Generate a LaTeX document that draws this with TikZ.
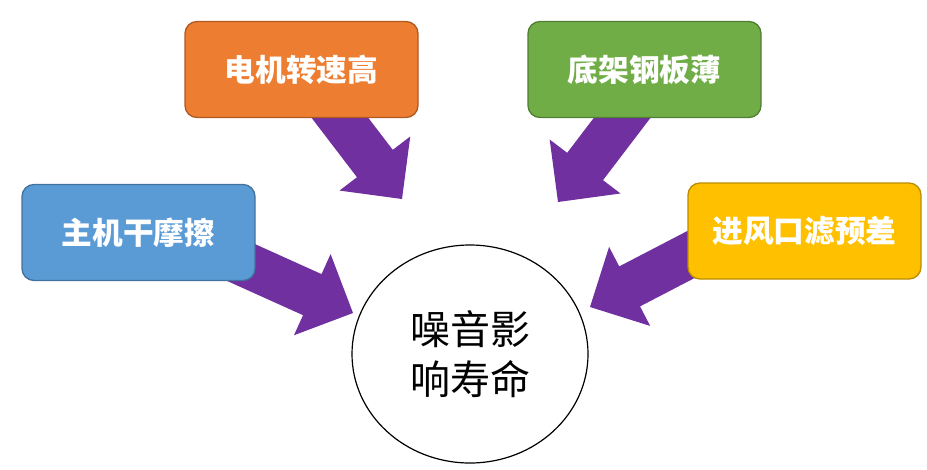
\documentclass[tikz,border=0pt]{standalone}
\usepackage{fontspec}
\newfontfamily\cjk{Noto Sans CJK SC}
\usetikzlibrary{calc,shapes.geometric}
\definecolor{arrowpurple}{HTML}{7030A0}
\definecolor{orfill}{HTML}{ED7D31}\definecolor{ordraw}{HTML}{AE5A21}
\definecolor{grfill}{HTML}{70AD47}\definecolor{grdraw}{HTML}{507E32}
\definecolor{blfill}{HTML}{5B9BD5}\definecolor{bldraw}{HTML}{41719C}
\definecolor{yefill}{HTML}{FFC000}\definecolor{yedraw}{HTML}{BC8C00}
\newcommand\blockarrow[2]{%
  \fill[arrowpurple] (#2)
    -- ($($(#2)!33.5pt!(#1)$)!33.4pt!90:(#2)$)
    -- ($($(#2)!33.5pt!(#1)$)!16.9pt!90:(#2)$)
    -- ($(#1)!16.9pt!90:(#2)$)
    -- ($(#1)!16.9pt!-90:(#2)$)
    -- ($($(#2)!33.5pt!(#1)$)!16.9pt!-90:(#2)$)
    -- ($($(#2)!33.5pt!(#1)$)!33.4pt!-90:(#2)$)
    -- cycle;}
\tikzset{
  causebox/.style={rectangle, rounded corners=9pt, line width=1pt,
    minimum width=174.75pt, minimum height=72pt, inner sep=0pt,
    text=white, font=\cjk\bfseries\fontsize{23}{27}\selectfont},
  effect/.style={ellipse, draw=black, line width=0.9pt, fill=white,
    minimum width=177pt, minimum height=163.5pt, inner sep=0pt,
    align=center, font=\cjk\fontsize{30}{37.5}\selectfont}
}
\begin{document}
\begin{tikzpicture}[x=0.75pt,y=-0.75pt]
\useasboundingbox (0,0) rectangle (927,469);
% coordinates for connectors
\coordinate (s1) at (311,80);  \coordinate (t1) at (402,199);
\coordinate (s2) at (651,80);  \coordinate (t2) at (558,202);
\coordinate (s3) at (200,244); \coordinate (t3) at (353,313);
\coordinate (s4) at (740,229); \coordinate (t4) at (590,307);
% ellipse
\node[effect] (e) at (470,354) {噪音影\\响寿命};
% arrows
\blockarrow{s1}{t1}
\blockarrow{s2}{t2}
\blockarrow{s3}{t3}
\blockarrow{s4}{t4}
% boxes
\node[causebox, fill=orfill, draw=ordraw] (o) at (301.5,69.5) {电机转速高};
\node[causebox, fill=grfill, draw=grdraw] (g) at (644.5,69.5) {底架钢板薄};
\node[causebox, fill=blfill, draw=bldraw] (b) at (138.5,232.5) {主机干摩擦};
\node[causebox, fill=yefill, draw=yedraw] (y) at (804.5,231) {进风口滤预差};
\end{tikzpicture}
\end{document}
